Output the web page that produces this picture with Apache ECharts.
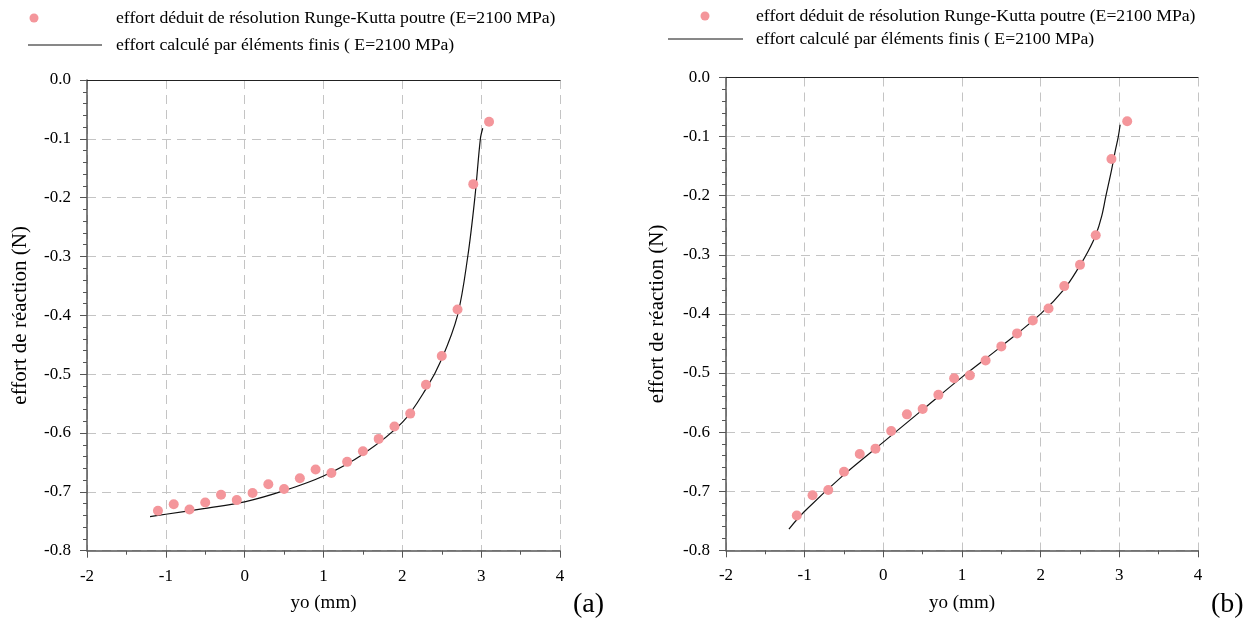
<!DOCTYPE html>
<html><head><meta charset="utf-8">
<script src="https://cdn.jsdelivr.net/npm/echarts@6/dist/echarts.min.js"></script>
<style>html,body{margin:0;padding:0;background:#fff}#c{width:1253px;height:619px}</style>
</head><body><div id="c"></div>
<script>
// Chart (a)
const rkXa = [-1.1,-0.9,-0.7,-0.5,-0.3,-0.1,0.1,0.3,0.5,0.7,0.9,1.1,1.3,1.5,1.7,1.9,2.1,2.3,2.5,2.7,2.9,3.1];
const rkYa = [-0.732,-0.721,-0.730,-0.718,-0.705,-0.714,-0.702,-0.687,-0.695,-0.677,-0.662,-0.668,-0.649,-0.631,-0.610,-0.589,-0.567,-0.518,-0.469,-0.390,-0.177,-0.071];
const feXa = [-1.2,-1.0,-0.5,0,0.5,1.0,1.5,2.0,2.3,2.5,2.7,2.83,2.92,2.99,3.02];
const feYa = [-0.742,-0.738,-0.728,-0.717,-0.698,-0.673,-0.636,-0.582,-0.525,-0.474,-0.400,-0.300,-0.200,-0.100,-0.082];
// Chart (b)
const rkXb = [-1.1,-0.9,-0.7,-0.5,-0.3,-0.1,0.1,0.3,0.5,0.7,0.9,1.1,1.3,1.5,1.7,1.9,2.1,2.3,2.5,2.7,2.9,3.1];
const rkYb = [-0.741,-0.707,-0.698,-0.667,-0.637,-0.628,-0.598,-0.570,-0.561,-0.537,-0.509,-0.504,-0.479,-0.455,-0.433,-0.411,-0.391,-0.353,-0.317,-0.267,-0.138,-0.074];
const feXb = [-1.2,-1.0,-0.5,0,0.5,1.0,1.5,2.0,2.3,2.5,2.6,2.7,2.775,2.83,2.9,2.95,2.987,3.01];
const feYb = [-0.764,-0.734,-0.672,-0.617,-0.562,-0.507,-0.455,-0.400,-0.358,-0.318,-0.295,-0.267,-0.235,-0.200,-0.157,-0.123,-0.100,-0.080];

const xTicks = [-2,-1,0,1,2,3,4];
const yTicks = [0.0,-0.1,-0.2,-0.3,-0.4,-0.5,-0.6,-0.7,-0.8];
const legendRK = 'effort déduit de résolution Runge-Kutta poutre (E=2100 MPa)';
const legendFE = 'effort calculé par éléments finis ( E=2100 MPa)';
const xName = 'yo (mm)';
const yName = 'effort de réaction (N)';
const panelLabels = ['(a)', '(b)'];

const FONT = '"Liberation Serif", "DejaVu Serif", serif';
const pink = '#f4969b';
const zip = (a, b) => a.map((v, i) => [v, b[i]]);

const grids = [
  {left: 87, top: 80, width: 473, height: 470.7, outerBoundsMode: 'none', containLabel: false},
  {left: 726, top: 77.5, width: 472, height: 472.8, outerBoundsMode: 'none', containLabel: false}
];
const yNameGaps = [56, 58];

const xAxes = [], yAxes = [], series = [];
grids.forEach((g, i) => {
  xAxes.push({
    gridIndex: i, type: 'value', min: xTicks[0], max: xTicks[xTicks.length-1], interval: 1,
    position: 'bottom',
    name: xName, nameLocation: 'middle', nameGap: 43,
    nameTextStyle: {fontFamily: FONT, fontSize: 19, color: '#000'},
    axisLine: {onZero: false, lineStyle: {color: '#555', width: 1.5}},
    axisTick: {show: true, inside: false, length: 7, lineStyle: {color: '#555'}},
    minorTick: {show: true, splitNumber: 2, length: 4, lineStyle: {color: '#555'}},
    axisLabel: {fontFamily: FONT, fontSize: 17, color: '#000', margin: 17},
    splitLine: {show: true, lineStyle: {color: '#c4c4c4', type: [9, 6], width: 1}}
  });
  xAxes.push({
    gridIndex: i, type: 'value', min: xTicks[0], max: xTicks[xTicks.length-1], interval: 1,
    position: 'top',
    axisLine: {onZero: false, lineStyle: {color: '#222', width: 1.2}},
    axisTick: {show: false}, axisLabel: {show: false}, splitLine: {show: false}
  });
  yAxes.push({
    gridIndex: i, type: 'value', min: yTicks[yTicks.length-1], max: yTicks[0], interval: 0.1,
    name: yName, nameLocation: 'middle', nameGap: yNameGaps[i], nameRotate: 90,
    nameTextStyle: {fontFamily: FONT, fontSize: 21, color: '#000'},
    axisLine: {show: true, onZero: false, lineStyle: {color: '#555', width: 1.5}},
    axisTick: {show: true, length: 7, lineStyle: {color: '#555'}},
    minorTick: {show: true, splitNumber: 5, length: 4, lineStyle: {color: '#555'}},
    axisLabel: {fontFamily: FONT, fontSize: 17, color: '#000', margin: 16,
      formatter: v => v.toFixed(1)},
    splitLine: {show: true, lineStyle: {color: '#c4c4c4', type: [9, 6], width: 1}}
  });
});

const data = [
  [zip(rkXa, rkYa), zip(feXa, feYa)],
  [zip(rkXb, rkYb), zip(feXb, feYb)]
];
data.forEach((d, i) => {
  series.push({
    type: 'line', xAxisIndex: i*2, yAxisIndex: i, data: d[1], smooth: 0.35,
    showSymbol: false, lineStyle: {color: '#111', width: 1.2}, z: 3, animation: false
  });
  series.push({
    type: 'scatter', xAxisIndex: i*2, yAxisIndex: i, data: d[0], symbolSize: 10,
    itemStyle: {color: pink, opacity: 1}, z: 4, animation: false
  });
});

const graphics = [];
const legendPos = [
  {dotX: 34, dotY: 18, lineX1: 28, lineX2: 102, lineY: 45, textX: 116},
  {dotX: 705, dotY: 16, lineX1: 668, lineX2: 743, lineY: 39, textX: 756}
];
legendPos.forEach((p, i) => {
  graphics.push({type: 'circle', shape: {cx: p.dotX, cy: p.dotY, r: 4.5}, style: {fill: pink}});
  graphics.push({type: 'text', x: p.textX, y: p.dotY, style: {text: legendRK, font: '17.7px ' + FONT, fill: '#000', verticalAlign: 'middle'}});
  graphics.push({type: 'line', shape: {x1: p.lineX1, y1: p.lineY, x2: p.lineX2, y2: p.lineY}, style: {stroke: '#111', lineWidth: 1}});
  graphics.push({type: 'text', x: p.textX, y: p.lineY, style: {text: legendFE, font: '17.7px ' + FONT, fill: '#000', verticalAlign: 'middle'}});
});
graphics.push({type: 'text', x: 573, y: 605, style: {text: panelLabels[0], font: '28px ' + FONT, fill: '#000', verticalAlign: 'middle'}});
graphics.push({type: 'text', x: 1211, y: 605, style: {text: panelLabels[1], font: '28px ' + FONT, fill: '#000', verticalAlign: 'middle'}});

const chart = echarts.init(document.getElementById('c'), null, {renderer: 'canvas'});
chart.setOption({
  animation: false,
  backgroundColor: '#fff',
  grid: grids,
  xAxis: xAxes,
  yAxis: yAxes,
  series: series,
  graphic: graphics
});
</script></body></html>
